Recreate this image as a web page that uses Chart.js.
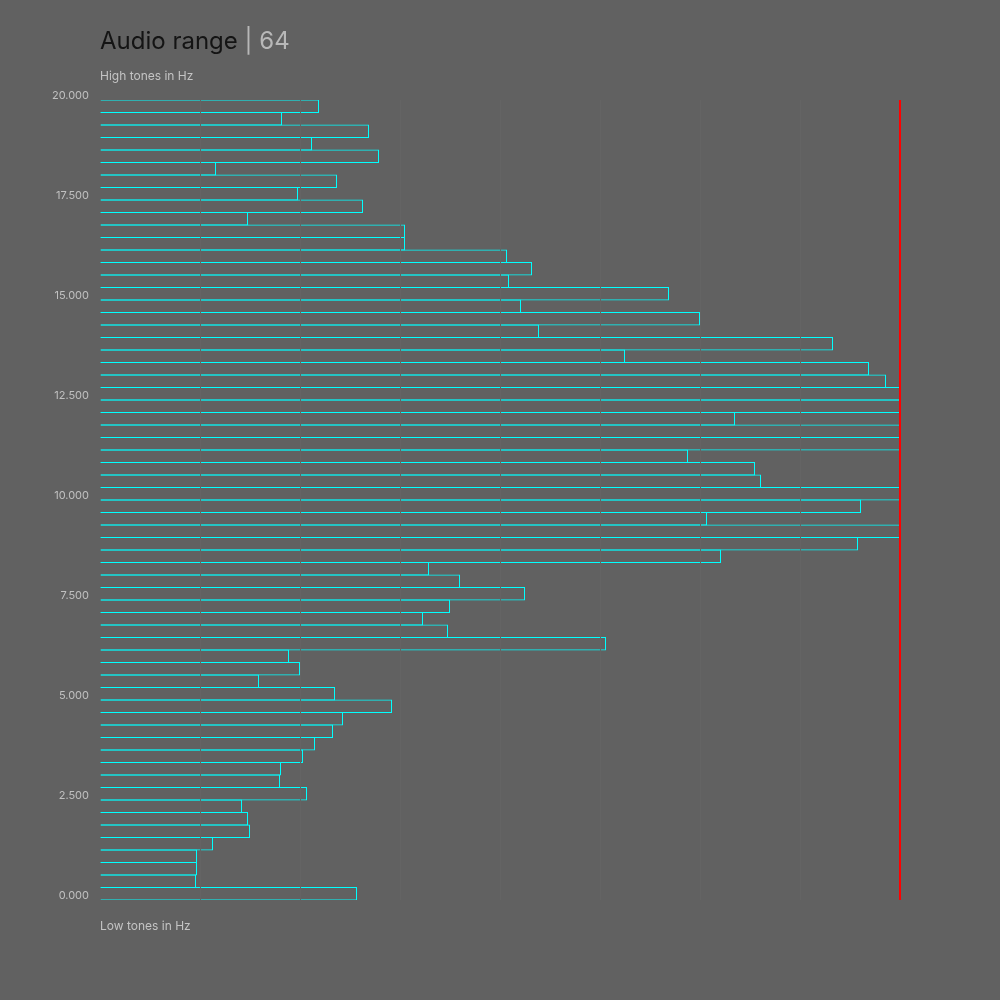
<!DOCTYPE html>
<html>
<head>
<meta charset="utf-8">
<script src="https://cdn.jsdelivr.net/npm/chart.js@4/dist/chart.umd.min.js"></script>
<style>
html,body{margin:0;padding:0;background:#616161;}
#wrap{position:relative;width:1000px;height:1000px;background:#616161;font-family:Inter, Roboto, sans-serif;}
canvas{position:absolute;left:0;top:0;}
.title{position:absolute;left:100px;top:29px;font-size:24px;line-height:24px;color:#141414;white-space:nowrap;}
.title .sep{color:#b8b8b8;}
.sub{position:absolute;left:100px;font-size:12px;line-height:12px;color:#c4c4c4;white-space:nowrap;}
</style>
</head>
<body>
<div id="wrap">
  <canvas id="c" width="1000" height="1000"></canvas>
  <div class="title">Audio range <span class="sep">| 64</span></div>
  <div class="sub" style="top:70px">High tones in Hz</div>
  <div class="sub" style="top:920px">Low tones in Hz</div>
</div>
<script>
// Frequency bins (lower bound, Hz), top to bottom
const categories = [
  "19687.5","19375","19062.5","18750","18437.5","18125","17812.5","17500",
  "17187.5","16875","16562.5","16250","15937.5","15625","15312.5","15000",
  "14687.5","14375","14062.5","13750","13437.5","13125","12812.5","12500",
  "12187.5","11875","11562.5","11250","10937.5","10625","10312.5","10000",
  "9687.5","9375","9062.5","8750","8437.5","8125","7812.5","7500",
  "7187.5","6875","6562.5","6250","5937.5","5625","5312.5","5000",
  "4687.5","4375","4062.5","3750","3437.5","3125","2812.5","2500",
  "2187.5","1875","1562.5","1250","937.5","625","312.5","0"
];
// Bar lengths
const values = [
  21.9, 18.2, 26.9, 21.2, 27.9, 11.6, 23.7, 19.8,
  26.3, 14.8, 30.5, 30.5, 40.7, 43.2, 40.9, 56.9,
  42.1, 60.0, 43.9, 73.3, 52.5, 76.9, 78.6, 80,
  80, 63.5, 80, 80, 58.8, 65.5, 66.1, 80,
  76.1, 60.7, 80, 75.8, 62.1, 32.9, 36.0, 42.5,
  35.0, 32.3, 34.8, 50.6, 18.9, 20.0, 15.9, 23.5,
  29.2, 24.3, 23.3, 21.5, 20.3, 18.1, 18.0, 20.7,
  14.2, 14.8, 15.0, 11.3, 9.7, 9.7, 9.6, 25.7
];
const yTickValues = [0, 2500, 5000, 7500, 10000, 12500, 15000, 17500, 20000];
const yTickLabels = ["0.000","2.500","5.000","7.500","10.000","12.500","15.000","17.500","20.000"];
const xMax = 80;
const xStep = 10;

new Chart(document.getElementById('c'), {
  type: 'bar',
  data: {
    labels: categories,
    datasets: [{
      data: values,
      xAxisID: 'x',
      yAxisID: 'y',
      backgroundColor: 'rgba(0,0,0,0)',
      borderColor: '#00ffff',
      borderWidth: 1,
      borderSkipped: 'start',
      barPercentage: 1.08,
      categoryPercentage: 1,
      inflateAmount: 0
    }]
  },
  options: {
    indexAxis: 'y',
    responsive: false,
    animation: false,
    events: [],
    layout: { padding: { left: 0, top: 100, right: 100, bottom: 100 } },
    plugins: {
      legend: { display: false },
      tooltip: { enabled: false },
      title: { display: false }
    },
    scales: {
      x: {
        type: 'linear',
        min: 0,
        max: xMax,
        offset: false,
        ticks: { display: false, stepSize: xStep },
        grid: {
          z: 1,
          offset: false,
          drawTicks: false,
          color: (ctx) => ctx.tick && ctx.tick.value === xMax ? '#ff0000' : (ctx.tick && ctx.tick.value === 0 ? 'rgba(0,0,0,0)' : '#646464'),
          lineWidth: (ctx) => ctx.tick && ctx.tick.value === xMax ? 2 : 1
        },
        border: { display: false },
        afterFit: (s) => { s.height = 0; }
      },
      y: {
        type: 'category',
        display: false
      },
      yHz: {
        type: 'linear',
        position: 'left',
        min: 0,
        max: 20000,
        offset: false,
        afterBuildTicks: (s) => { s.ticks = yTickValues.map(v => ({ value: v })); },
        ticks: {
          color: '#c0c0c0',
          font: { family: 'Inter', size: 11 },
          padding: 11,
          labelOffset: -4,
          callback: (v) => yTickLabels[yTickValues.indexOf(v)]
        },
        grid: { display: false, drawTicks: false, offset: false },
        border: { display: false },
        afterFit: (s) => { s.width = 100; }
      }
    }
  }
});
</script>
</body>
</html>
